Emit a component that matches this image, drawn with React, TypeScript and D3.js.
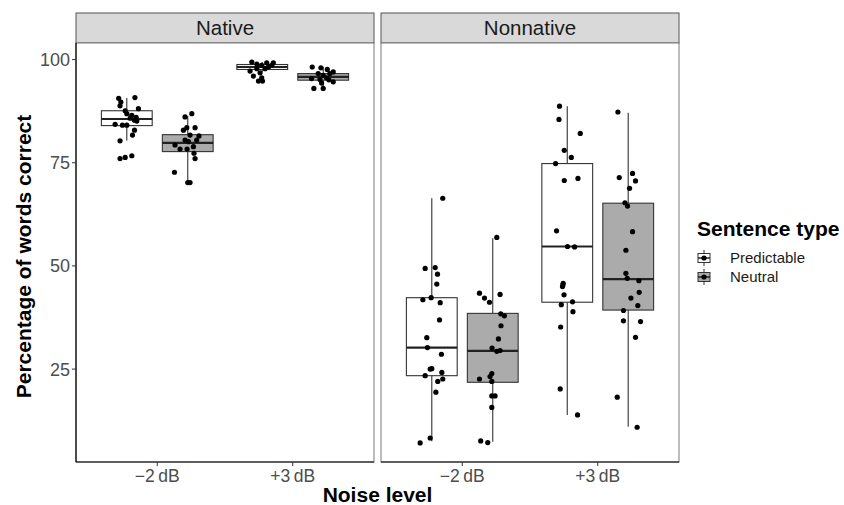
import { scaleLinear, scalePoint } from 'd3';

const panels = ['Native', 'Nonnative'];
const noiseLevels = ['\u22122\u2009dB', '+3\u2009dB'];
const sentenceTypes = ['Predictable', 'Neutral'];
const yTicks = [25, 50, 75, 100];

// box stats: panel, noise, type, lower whisker, q1, median, q3, upper whisker
const boxStats: [number, number, number, number, number, number, number, number][] = [
  [0, 0, 0, 80.4, 84.0, 85.6, 87.6, 90.7],
  [0, 0, 1, 70.4, 77.7, 79.8, 81.8, 86.3],
  [0, 1, 0, 97.0, 97.6, 98.2, 98.8, 99.4],
  [0, 1, 1, 93.0, 95.0, 95.8, 96.6, 98.2],
  [1, 0, 0, 7.5, 23.4, 30.2, 42.3, 66.4],
  [1, 0, 1, 7.4, 21.8, 29.4, 38.5, 56.7],
  [1, 1, 0, 13.9, 41.2, 54.7, 74.8, 88.7],
  [1, 1, 1, 11.0, 39.3, 46.8, 65.2, 87.1],
];

// jittered points: [jitter (x units), percentage]
const nativeM2Pred = [
  [-0.06, 90.6], [-0.044, 89.7], [0.06, 90.8], [-0.05, 88.8], [-0.012, 87.6], [0.086, 88.1],
  [0, 86.9], [0.037, 86.5], [0.069, 86.0], [0.025, 85.8], [0.057, 85.3], [0.074, 85.1],
  [-0.086, 84.3], [-0.032, 84.1], [0.0, 84.1], [0.057, 82.9], [0.042, 81.7], [-0.05, 80.3],
  [-0.05, 76.0], [-0.012, 76.3], [0.037, 76.7],
];
const nativeM2Neut = [
  [-0.02, 86.1], [0.03, 86.9], [-0.032, 82.9], [-0.007, 83.5], [0.054, 83.5], [0.017, 81.7],
  [0.083, 81.5], [-0.02, 80.5], [0.066, 80.5], [0.005, 80.1], [-0.094, 79.3], [-0.057, 78.3],
  [-0.005, 78.3], [0.042, 78.9], [0.046, 77.3], [0.054, 76.0], [-0.098, 72.7], [0, 70.2],
  [0.017, 70.2],
];
const nativeP3Pred = [
  [-0.077, 99.4], [-0.04, 98.9], [0.033, 99.2], [0.082, 99.2], [-0.004, 98.6], [0.046, 98.2],
  [-0.09, 97.2], [-0.04, 97.8], [-0.016, 96.8], [-0.065, 96.0], [-0.004, 95.6], [-0.028, 94.8],
  [0.002, 94.8], [0.07, 98.6], [0.021, 97.8],
];
const nativeP3Neut = [
  [-0.081, 98.2], [-0.017, 98.0], [0.03, 97.6], [0.074, 97.0], [-0.037, 96.6], [0.049, 96.6],
  [0, 96.2], [-0.086, 95.4], [-0.024, 95.2], [0.024, 95.6], [0.074, 94.6], [-0.012, 94.3],
  [-0.069, 93.0], [0, 93.0], [0.042, 95.1],
];
const nonnativeM2Pred = [
  [0.081, 66.4], [-0.049, 49.4], [0.025, 49.6], [0.042, 48.0], [0.037, 45.6], [-0.066, 41.8],
  [-0.005, 42.3], [0.062, 41.1], [0.057, 36.9], [-0.037, 32.6], [-0.032, 30.2], [0.071, 28.6],
  [-0.012, 25.0], [0, 25.1], [-0.049, 23.4], [0.074, 24.2], [0.081, 22.6], [0.044, 22.0],
  [0.03, 19.4], [-0.012, 8.3], [-0.086, 7.1],
];
const nonnativeM2Neut = [
  [0.03, 56.9], [-0.098, 43.4], [-0.061, 42.2], [-0.024, 41.2], [0.054, 43.1], [0.059, 38.4],
  [0.086, 37.9], [0.061, 35.5], [0.042, 32.3], [-0.005, 30.1], [0.03, 29.3], [0.054, 29.5],
  [-0.007, 23.9], [-0.02, 23.2], [-0.098, 22.6], [-0.007, 22.0], [-0.007, 18.5], [0.017, 18.5],
  [-0.007, 15.7], [-0.089, 7.6], [-0.037, 7.2],
];
const nonnativeP3Pred = [
  [-0.057, 88.7], [-0.061, 85.5], [0.096, 82.1], [-0.022, 78.0], [0.03, 76.3], [-0.086, 74.8],
  [-0.022, 70.7], [0.079, 71.2], [-0.079, 58.5], [0.002, 54.7], [0.054, 54.6], [-0.03, 45.8],
  [-0.032, 45.4], [-0.035, 45.0], [-0.024, 43.0], [-0.044, 40.6], [0.039, 41.3], [0.042, 38.9],
  [-0.049, 35.2], [-0.052, 20.2], [0.076, 13.9],
];
const nonnativeP3Neut = [
  [-0.076, 87.3], [0.032, 72.4], [-0.066, 71.4], [0.054, 70.6], [0.01, 68.8], [-0.024, 65.3],
  [-0.005, 64.5], [0.032, 58.3], [-0.017, 53.8], [-0.017, 48.2], [-0.007, 47.0], [0.079, 46.4],
  [0.081, 43.6], [0.02, 42.2], [0.071, 40.4], [-0.035, 39.2], [-0.035, 36.7], [0.091, 36.5],
  [0.054, 32.7], [-0.081, 18.2], [0.066, 10.9],
];

const pointGroups: [number, number, number, number[][]][] = [
  [0, 0, 0, nativeM2Pred],
  [0, 0, 1, nativeM2Neut],
  [0, 1, 0, nativeP3Pred],
  [0, 1, 1, nativeP3Neut],
  [1, 0, 0, nonnativeM2Pred],
  [1, 0, 1, nonnativeM2Neut],
  [1, 1, 0, nonnativeP3Pred],
  [1, 1, 1, nonnativeP3Neut],
];

const W = 844;
const H = 505;
const FONT = '"Liberation Sans", Arial, Helvetica, sans-serif';
const panelLeft = [76, 381];
const panelWidth = 298;
const panelTop = 43;
const panelBottom = 462;
const stripTop = 13;
const fills = ['#ffffff', '#ababab'];
const dodge = 0.225;
const boxW = 0.375;

const allValues = pointGroups.flatMap((g) => g[3].map((p) => p[1]));
const vMin = Math.min(...allValues);
const vMax = Math.max(...allValues);
const pad = (vMax - vMin) * 0.05;
const y = scaleLinear().domain([vMin - pad, vMax + pad]).range([panelBottom, panelTop]);

const xScales = panels.map((_, i) =>
  scalePoint<string>().domain(noiseLevels).range([panelLeft[i], panelLeft[i] + panelWidth]).padding(0.6)
);
const step = xScales[0].step();

const App = () => {
  return (
    <div style={{ position: 'absolute', left: 0, top: 0 }}>
      <svg width={W} height={H} style={{ display: 'block', background: '#fff' }} fontFamily={FONT}>
        {panels.map((p, i) => {
          const x0 = panelLeft[i];
          return (
            <g key={p}>
              <rect x={x0} y={stripTop} width={panelWidth} height={panelTop - stripTop} fill="#d9d9d9" stroke="#555" strokeWidth={1} />
              <text x={x0 + panelWidth / 2} y={(stripTop + panelTop) / 2 + 7} textAnchor="middle" fontSize={20.5} fill="#1a1a1a">
                {p}
              </text>
              <rect x={x0} y={panelTop} width={panelWidth} height={panelBottom - panelTop} fill="#fff" stroke="#7a7a7a" strokeWidth={1} />
              <line x1={x0} x2={x0 + panelWidth} y1={panelBottom} y2={panelBottom} stroke="#000" strokeWidth={1.2} />
              {i === 0 && <line x1={x0} x2={x0} y1={panelTop} y2={panelBottom} stroke="#000" strokeWidth={1.2} />}
              {noiseLevels.map((n) => (
                <g key={n}>
                  <line x1={xScales[i](n)} x2={xScales[i](n)} y1={panelBottom} y2={panelBottom + 4} stroke="#333" />
                  <text x={xScales[i](n)} y={panelBottom + 20} textAnchor="middle" fontSize={17.5} fill="#4d4d4d">
                    {n}
                  </text>
                </g>
              ))}
            </g>
          );
        })}
        {yTicks.map((t) => (
          <g key={t}>
            <line x1={panelLeft[0] - 4} x2={panelLeft[0]} y1={y(t)} y2={y(t)} stroke="#333" />
            <text x={panelLeft[0] - 6} y={y(t) + 6.5} textAnchor="end" fontSize={18} fill="#4d4d4d">
              {t}
            </text>
          </g>
        ))}
        {boxStats.map(([pi, ni, ti, lo, q1, med, q3, hi], k) => {
          const cx = (xScales[pi](noiseLevels[ni]) as number) + (ti === 0 ? -dodge : dodge) * step;
          const hw = (boxW * step) / 2;
          return (
            <g key={k}>
              <line x1={cx} x2={cx} y1={y(hi)} y2={y(q3)} stroke="#333" strokeWidth={1.1} />
              <line x1={cx} x2={cx} y1={y(q1)} y2={y(lo)} stroke="#333" strokeWidth={1.1} />
              <rect x={cx - hw} y={y(q3)} width={hw * 2} height={y(q1) - y(q3)} fill={fills[ti]} stroke="#333" strokeWidth={1.1} />
              <line x1={cx - hw} x2={cx + hw} y1={y(med)} y2={y(med)} stroke="#222" strokeWidth={2.2} />
            </g>
          );
        })}
        {pointGroups.map(([pi, ni, ti, pts], k) => {
          const cx = (xScales[pi](noiseLevels[ni]) as number) + (ti === 0 ? -dodge : dodge) * step;
          return (
            <g key={k}>
              {pts.map(([j, v], m) => (
                <circle key={m} cx={cx + j * step} cy={y(v)} r={2.6} fill="#000" />
              ))}
            </g>
          );
        })}
        <text
          transform={`translate(31, ${(panelTop + panelBottom) / 2 + 4}) rotate(-90)`}
          textAnchor="middle"
          fontSize={21}
          fontWeight="bold"
          fill="#000"
        >
          Percentage of words correct
        </text>
        <text x={(panelLeft[0] + panelLeft[1] + panelWidth) / 2} y={502} textAnchor="middle" fontSize={21} fontWeight="bold" fill="#000">
          Noise level
        </text>
        <text x={697} y={236} fontSize={21} fontWeight="bold" fill="#000">
          Sentence type
        </text>
        {sentenceTypes.map((s, i) => {
          const cy = 258 + i * 19;
          const kx = 704;
          return (
            <g key={s}>
              <line x1={kx} x2={kx} y1={cy - 8} y2={cy + 8} stroke="#333" />
              <rect x={kx - 6} y={cy - 4.5} width={12} height={9} fill={fills[i]} stroke="#333" />
              <line x1={kx - 6} x2={kx + 6} y1={cy} y2={cy} stroke="#222" strokeWidth={1.5} />
              <circle cx={kx} cy={cy} r={2.6} fill="#000" />
              <text x={730} y={cy + 5} fontSize={15} fill="#1a1a1a">
                {s}
              </text>
            </g>
          );
        })}
      </svg>
    </div>
  );
};

export default App;
